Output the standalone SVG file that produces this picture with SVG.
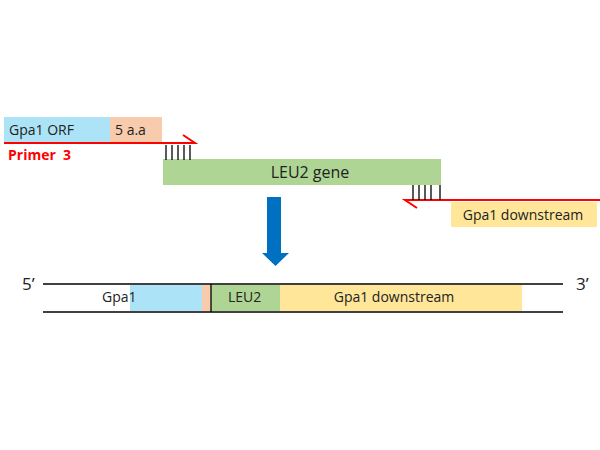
<svg xmlns="http://www.w3.org/2000/svg" width="600" height="450" viewBox="0 0 600 450">
<style>
text{font-family:"Open Sans","Noto Sans","DejaVu Sans",sans-serif;fill:#222;}
.t14{font-size:14px;}
.red{stroke:#FF0000;stroke-width:2;fill:none;}
.tick{stroke:#000;stroke-width:1.3;}
.blk{stroke:#000;stroke-width:1.3;}
</style>
<rect width="600" height="450" fill="#fff"/>
<g id="gpa1-orf">
<rect x="4" y="117" width="106" height="25" fill="#ADE3F6"/>
<text class="t14" x="9" y="135">Gpa1 ORF</text>
</g>
<g id="5aa">
<rect x="110" y="117" width="52" height="25" fill="#F8CBAD"/>
<text class="t14" x="115" y="135">5 a.a</text>
</g>
<g id="primer3">
<path class="red" d="M4 143 H195 L183 135"/>
<text x="8" y="160" style="font-size:14px;font-weight:bold;fill:#FF0000;white-space:pre">Primer  3</text>
</g>
<g id="leu2-gene">
<rect x="163" y="159" width="278" height="26" fill="#AED594"/>
<text x="310" y="178" text-anchor="middle" style="font-size:16px">LEU2 gene</text>
</g>
<g id="reverse-primer">
<path class="red" d="M600 200 H405 L417 208"/>
</g>
<g id="gpa1-downstream-top">
<rect x="451" y="202" width="146" height="25" fill="#FFE699"/>
<text class="t14" x="523" y="220" text-anchor="middle">Gpa1 downstream</text>
</g>
<g id="connectors">
<g class="tick">
<line x1="166" y1="145" x2="166" y2="160"/>
<line x1="172" y1="145" x2="172" y2="160"/>
<line x1="178" y1="145" x2="178" y2="160"/>
<line x1="184" y1="145" x2="184" y2="160"/>
<line x1="190" y1="145" x2="190" y2="160"/>
<line x1="413" y1="185" x2="413" y2="200"/>
<line x1="419" y1="185" x2="419" y2="200"/>
<line x1="425" y1="185" x2="425" y2="200"/>
<line x1="431" y1="185" x2="431" y2="200"/>
<line x1="440" y1="185" x2="440" y2="200"/>
</g>
<path d="M267 197 H281 V253 H289 L275.5 266 L262 253 H267 Z" fill="#0070C0"/>
</g>
<g id="result">
<rect x="130" y="285" width="72" height="26" fill="#ADE3F6"/>
<rect x="202" y="285" width="9" height="26" fill="#F8CBAD"/>
<rect x="211" y="285" width="69" height="26" fill="#AED594"/>
<rect x="280" y="285" width="242" height="26" fill="#FFE699"/>
<line class="blk" x1="43" y1="284" x2="563" y2="284"/>
<line class="blk" x1="43" y1="312" x2="563" y2="312"/>
<line class="blk" x1="211" y1="284" x2="211" y2="312"/>
<text x="22" y="290" style="font-size:17px">5’</text>
<text x="576" y="290" style="font-size:17px">3’</text>
<text class="t14" x="102" y="302">Gpa1</text>
<text class="t14" x="228" y="302">LEU2</text>
<text class="t14" x="394" y="302" text-anchor="middle">Gpa1 downstream</text>
</g>
</svg>
